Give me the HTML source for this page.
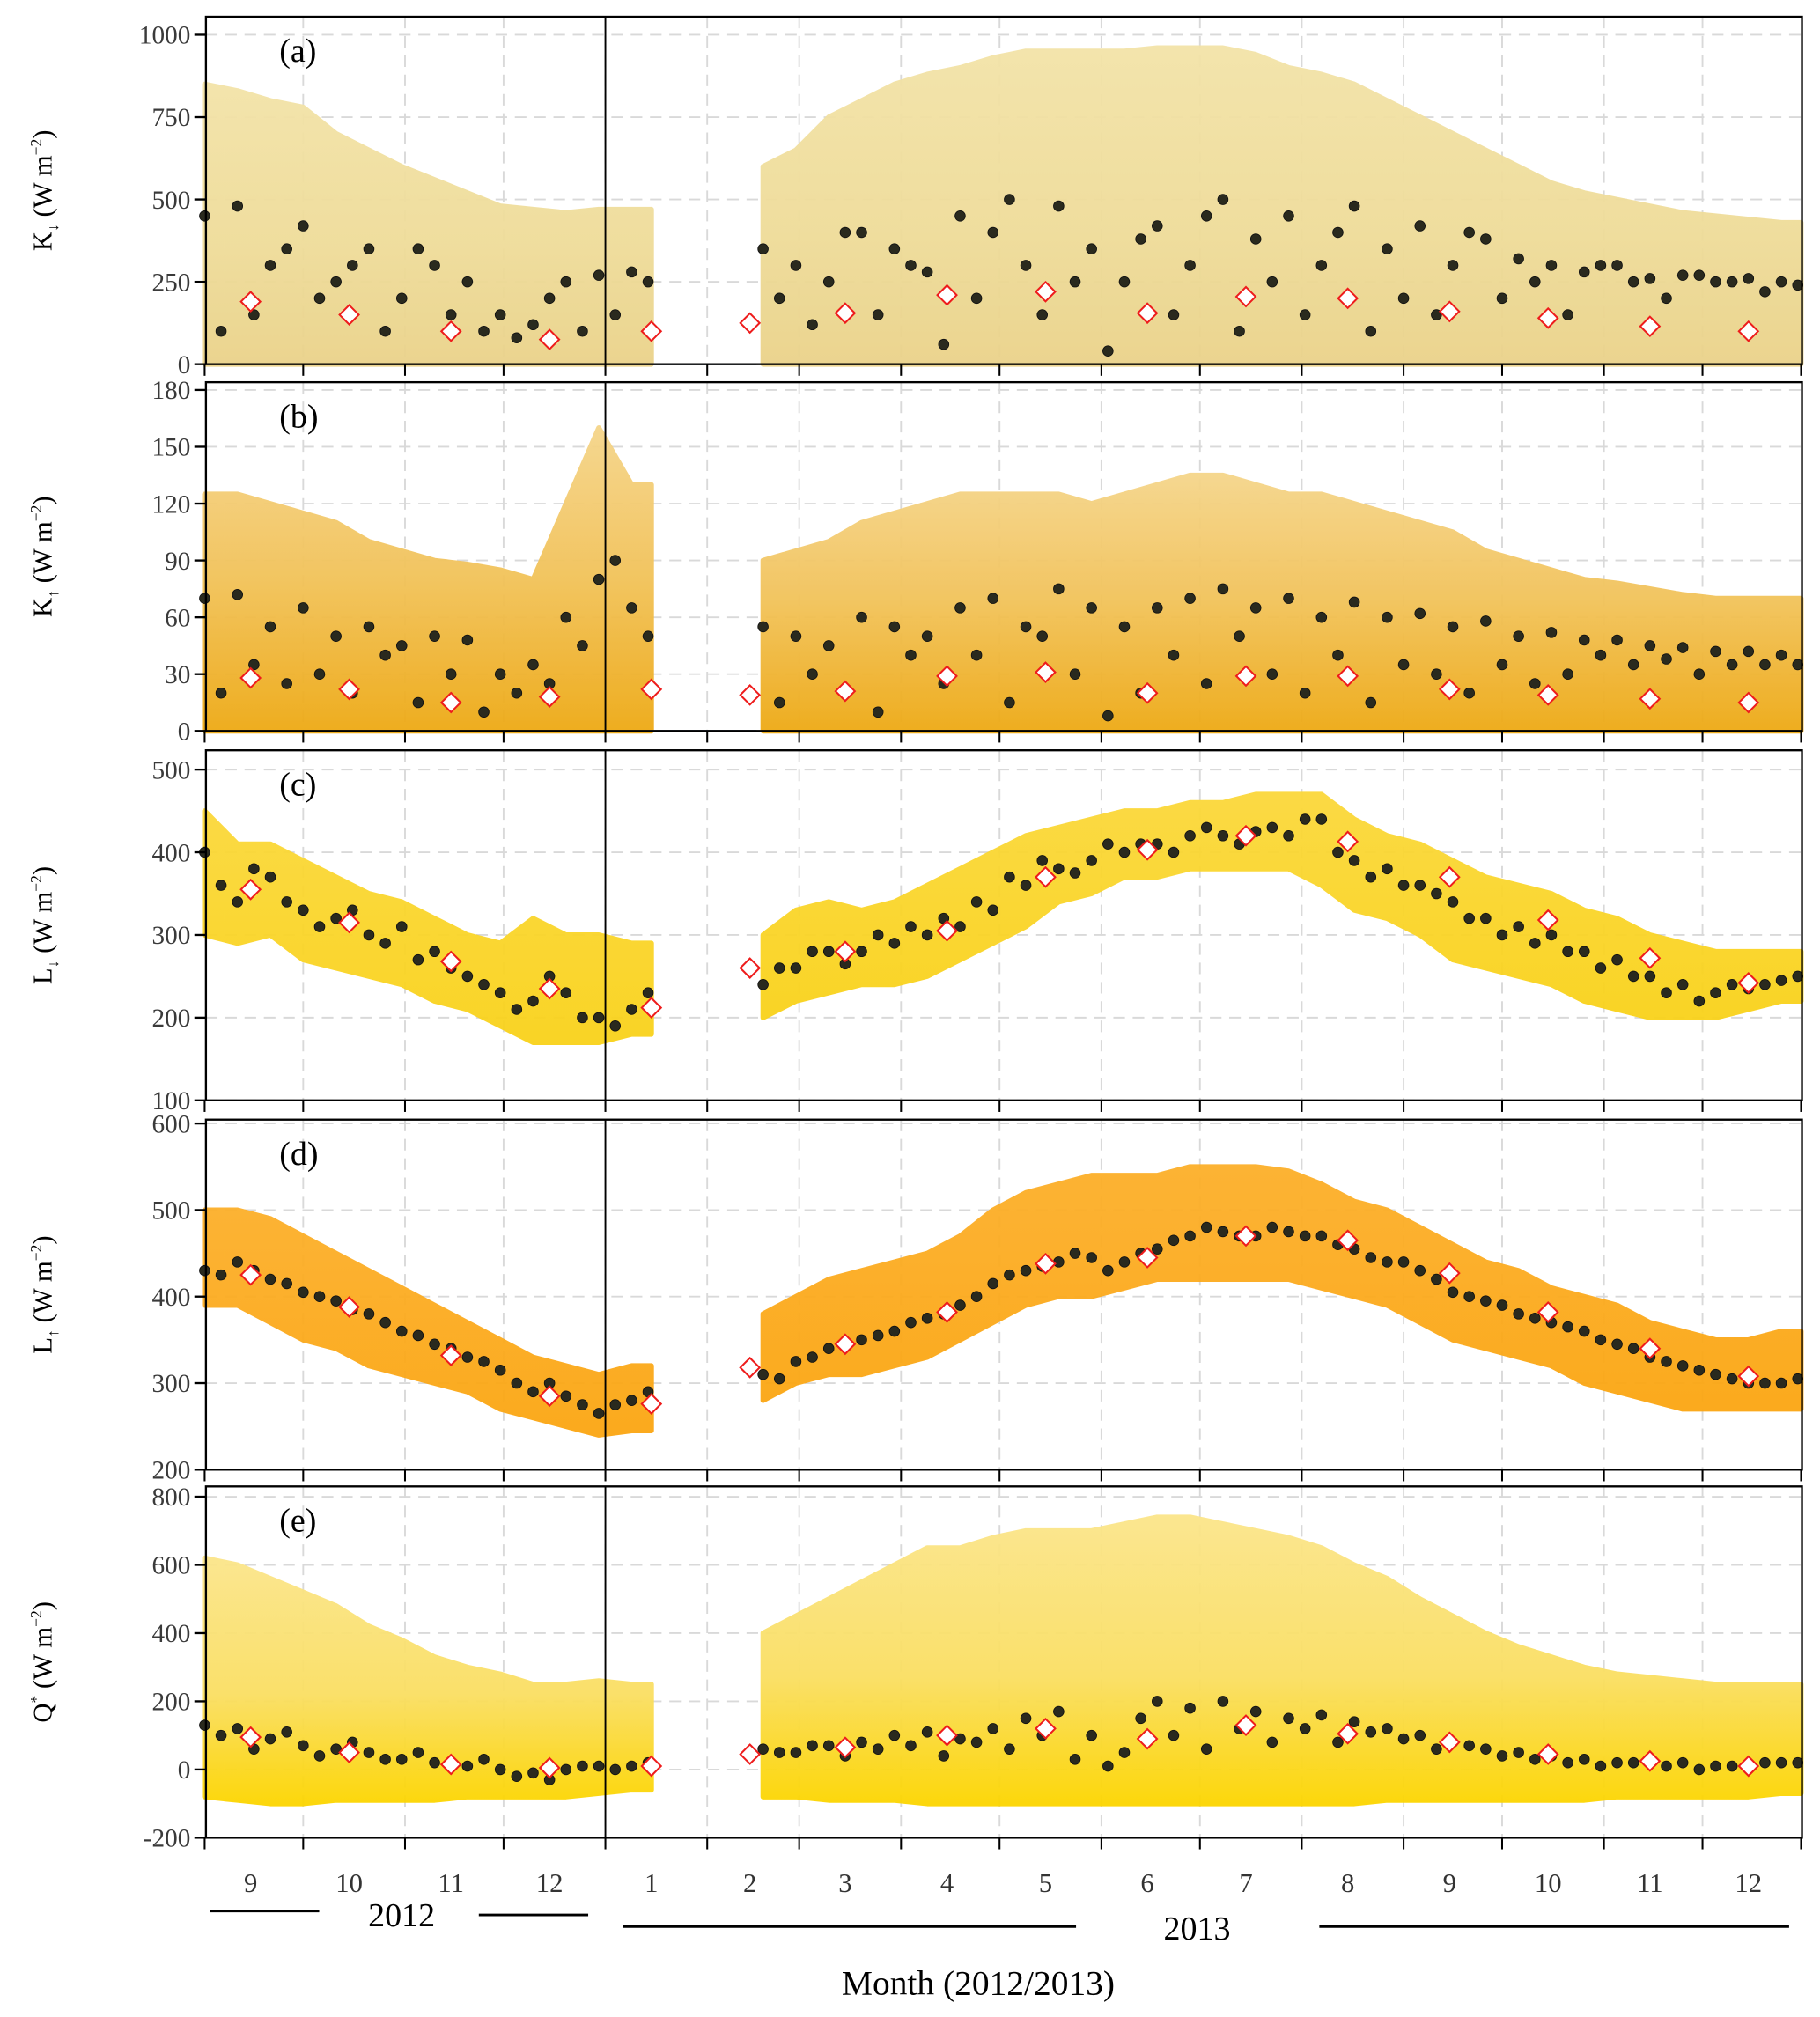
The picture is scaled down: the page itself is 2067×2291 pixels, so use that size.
<!DOCTYPE html>
<html><head><meta charset="utf-8">
<style>
html,body{margin:0;padding:0;background:#fff;}
svg{display:block;}
text{font-family:"Liberation Serif",serif;}
</style></head>
<body>
<svg id="chart" width="2067" height="2291" viewBox="0 0 1414 1567.3" preserveAspectRatio="none" xmlns="http://www.w3.org/2000/svg">
<defs>
<linearGradient id="ga" x1="0" y1="0" x2="0" y2="1"><stop offset="0" stop-color="#f3e3a8"/><stop offset="0.6" stop-color="#efdc98"/><stop offset="1" stop-color="#ead28a"/></linearGradient>
<linearGradient id="gb" x1="0" y1="0" x2="0" y2="1"><stop offset="0" stop-color="#f5d58a"/><stop offset="0.5" stop-color="#f2c258"/><stop offset="1" stop-color="#eea914"/></linearGradient>
<linearGradient id="gc" x1="0" y1="0" x2="0" y2="1"><stop offset="0" stop-color="#fbd83a"/><stop offset="1" stop-color="#f9d21a"/></linearGradient>
<linearGradient id="gd" x1="0" y1="0" x2="0" y2="1"><stop offset="0" stop-color="#fcaf2a"/><stop offset="1" stop-color="#fba612"/></linearGradient>
<linearGradient id="ge" x1="0" y1="0" x2="0" y2="1"><stop offset="0" stop-color="#fbe58a"/><stop offset="0.55" stop-color="#fadf63"/><stop offset="0.8" stop-color="#fbd92a"/><stop offset="1" stop-color="#fcd500"/></linearGradient>
</defs>
<g id="root"></g>
</svg>
<script>
const cloudMaxA = [850,830,800,780,700,650,600,560,520,480,470,460,470,470,null,null,null,600,650,750,800,850,880,900,930,950,950,950,950,960,960,960,940,900,880,850,800,750,700,650,600,550,520,500,480,460,450,440,430];
const cloudMinA = [0,0,0,0,0,0,0,0,0,0,0,0,0,0,null,null,null,0,0,0,0,0,0,0,0,0,0,0,0,0,0,0,0,0,0,0,0,0,0,0,0,0,0,0,0,0,0,0,0];
const meanAa = [450,480,300,420,250,350,200,300,250,150,120,250,270,280,null,null,null,350,300,250,400,350,280,450,400,300,480,350,250,420,300,500,380,450,300,480,350,420,300,380,320,300,280,300,260,270,250,260,250];
const meanBa = [100,150,350,200,300,100,350,150,100,80,200,100,150,250,null,null,null,200,120,400,150,300,60,200,500,150,250,40,380,150,450,100,250,150,400,100,200,150,400,200,250,150,300,250,200,270,250,220,240];
const diamA = [190,150,100,75,100,125,155,210,220,155,205,200,160,140,115,100];

const cloudMaxB = [125,125,120,115,110,100,95,90,88,85,80,120,160,130,null,null,null,90,95,100,110,115,120,125,125,125,125,120,125,130,135,135,130,125,125,120,115,110,105,95,90,85,80,78,75,72,70,70,70];
const cloudMinB = [0,0,0,0,0,0,0,0,0,0,0,0,0,0,null,null,null,0,0,0,0,0,0,0,0,0,0,0,0,0,0,0,0,0,0,0,0,0,0,0,0,0,0,0,0,0,0,0,0];
const meanAb = [70,72,55,65,50,55,45,50,48,30,35,60,80,65,null,null,null,55,50,45,60,55,50,65,70,55,75,65,55,65,70,75,65,70,60,68,60,62,55,58,50,52,48,48,45,44,42,42,40];
const meanBb = [20,35,25,30,20,40,15,30,10,20,25,45,90,50,null,null,null,15,30,20,10,40,25,40,15,50,30,8,20,40,25,50,30,20,40,15,35,30,20,35,25,30,40,35,38,30,35,35,35];
const diamB = [28,22,15,18,22,19,21,29,31,20,29,29,22,19,17,15];

const cloudMaxC = [450,410,410,390,370,350,340,320,300,290,320,300,300,290,null,null,null,300,330,340,330,340,360,380,400,420,430,440,450,450,460,460,470,470,470,440,420,410,390,370,360,350,330,320,300,290,280,280,280];
const cloudMinC = [300,290,300,270,260,250,240,220,210,190,170,170,170,180,null,null,null,200,220,230,240,240,250,270,290,310,340,350,370,370,380,380,380,380,360,330,320,300,270,260,250,240,220,210,200,200,200,210,220];
const meanAc = [400,340,370,330,320,300,310,280,250,230,220,230,200,210,null,null,null,240,260,280,280,290,300,310,330,360,380,390,400,410,420,420,425,420,440,390,380,360,340,320,310,300,280,270,250,240,230,235,245];
const meanBc = [360,380,340,310,330,290,270,260,240,210,250,200,190,230,null,null,null,260,280,265,300,310,320,340,370,390,375,410,410,400,430,410,430,440,400,370,360,350,320,300,290,280,260,250,230,220,240,240,250];
const diamC = [355,315,268,235,212,260,280,305,370,403,420,413,370,318,272,242];

const cloudMaxD = [500,500,490,470,450,430,410,390,370,350,330,320,310,320,null,null,null,380,400,420,430,440,450,470,500,520,530,540,540,540,550,550,550,545,530,510,500,480,460,440,430,410,400,390,370,360,350,350,360];
const cloudMinD = [390,390,370,350,340,320,310,300,290,270,260,250,240,245,null,null,null,280,300,310,310,320,330,350,370,390,400,400,410,420,420,420,420,420,410,400,390,370,350,340,330,320,300,290,280,270,270,270,270];
const meanAd = [430,440,420,405,395,380,360,345,330,315,290,285,265,280,null,null,null,310,325,340,350,360,375,390,415,430,440,445,440,455,470,475,470,475,470,455,440,430,405,395,380,370,360,345,330,320,310,300,300];
const meanBd = [425,430,415,400,385,370,355,340,325,300,300,275,275,290,null,null,null,305,330,345,355,370,380,400,425,435,450,430,450,465,480,470,480,470,460,445,440,420,400,390,375,365,350,340,325,315,305,300,305];
const diamD = [425,388,332,285,276,318,345,382,438,445,470,465,427,382,340,308];

const cloudMaxE = [620,600,560,520,480,420,380,330,300,280,250,250,260,250,null,null,null,400,450,500,550,600,650,650,680,700,700,700,720,740,740,720,700,680,650,600,560,500,450,400,360,330,300,280,270,260,250,250,250];
const cloudMinE = [-80,-90,-100,-100,-90,-90,-90,-90,-80,-80,-80,-80,-70,-60,null,null,null,-80,-80,-90,-90,-90,-100,-100,-100,-100,-100,-100,-100,-100,-100,-100,-100,-100,-100,-100,-90,-90,-90,-90,-90,-90,-90,-80,-80,-80,-80,-80,-70];
const meanAe = [130,120,90,70,60,50,30,20,10,0,-10,0,10,10,null,null,null,60,50,70,80,100,110,90,120,150,170,100,50,200,180,200,170,150,160,140,120,100,80,60,50,40,30,20,20,20,10,10,20];
const meanBe = [100,60,110,40,80,30,50,10,30,-20,-30,10,0,20,null,null,null,50,70,40,60,70,40,80,60,100,30,10,150,100,60,120,80,120,80,110,90,60,70,40,30,20,10,20,10,0,10,20,20];
const diamE = [95,50,15,5,10,45,65,100,120,90,130,105,80,45,25,10];

const diamDays = [14,44,75,105,136,166,195,226,256,287,317,348,379,409,440,470];
const monthStarts = [30,61,91,122,153,181,212,242,273,303,334,365,395,426,456];
const monthLabels = ["9","10","11","12","1","2","3","4","5","6","7","8","9","10","11","12"];
const ticksA = [0,250,500,750,1000];
const ticksB = [0,30,60,90,120,150,180];
const ticksC = [100,200,300,400,500];
const ticksD = [200,300,400,500,600];
const ticksE = [-200,0,200,400,600,800];

const NS = "http://www.w3.org/2000/svg";
const root = document.getElementById("root");
const X0 = 160, X1 = 1400;
function xDay(d){ return 159 + d * 2.552; }
function mk(tag, attrs, parent){ const e = document.createElementNS(NS, tag); for (const k in attrs) e.setAttribute(k, attrs[k]); (parent||root).appendChild(e); return e; }

const panels = [
 {key:"a", top:13, bot:283, vmin:0, vmax:1000, yTop:27, ticks:ticksA, max:cloudMaxA, min:cloudMinA, mA:meanAa, mB:meanBa, dm:diamA, fill:"url(#ga)", lab:"K", sub:"↓", sup:"", gap0:true},
 {key:"b", top:297, bot:568, vmin:0, vmax:180, yTop:303, ticks:ticksB, max:cloudMaxB, min:cloudMinB, mA:meanAb, mB:meanBb, dm:diamB, fill:"url(#gb)", lab:"K", sub:"↑", sup:"", gap0:true},
 {key:"c", top:583, bot:855, vmin:100, vmax:500, yTop:598, ticks:ticksC, max:cloudMaxC, min:cloudMinC, mA:meanAc, mB:meanBc, dm:diamC, fill:"url(#gc)", lab:"L", sub:"↓", sup:""},
 {key:"d", top:870, bot:1142, vmin:200, vmax:600, yTop:873, ticks:ticksD, max:cloudMaxD, min:cloudMinD, mA:meanAd, mB:meanBd, dm:diamD, fill:"url(#gd)", lab:"L", sub:"↑", sup:""},
 {key:"e", top:1155, bot:1428, vmin:-200, vmax:800, yTop:1163, ticks:ticksE, max:cloudMaxE, min:cloudMinE, mA:meanAe, mB:meanBe, dm:diamE, fill:"url(#ge)", lab:"Q", sub:"", sup:"*"}
];

panels.forEach(p => {
  const y = v => p.bot - (v - p.vmin) / (p.vmax - p.vmin) * (p.bot - p.yTop);
  const g = mk("g", {});
  
  
  p.ticks.forEach(t => {
    const ln = mk("line", {x1:X0, x2:X1, y1:y(t), y2:y(t), stroke:"#d9d9d9", "stroke-width":1.3, "stroke-dasharray":"9,6"}, g);
    
    
  });
  monthStarts.forEach(d => {
    const ln = mk("line", {x1:xDay(d), x2:xDay(d), y1:p.top, y2:p.bot, stroke:"#d9d9d9", "stroke-width":1.3, "stroke-dasharray":"9,6"}, g);
    
    
  });
  let seg = [];
  const segs = [];
  p.max.forEach((v, i) => { if (v === null) { if (seg.length) segs.push(seg); seg = []; } else seg.push(i); });
  if (seg.length) segs.push(seg);
  segs.forEach(s => {
    const pts = [];
    const endD = Math.min(s[s.length-1]*10 + 6, 486);
    s.forEach(i => pts.push(xDay(Math.min(i*10, 486)) + "," + y(p.max[i])));
    pts.push(xDay(endD) + "," + y(p.max[s[s.length-1]]));
    pts.push(xDay(endD) + "," + y(p.min[s[s.length-1]]));
    for (let k = s.length - 1; k >= 0; k--) { const i = s[k]; pts.push(xDay(Math.min(i*10, 486)) + "," + y(p.min[i])); }
    const poly = mk("polygon", {points:pts.join(" "), fill:p.fill, stroke:p.fill, "stroke-width":4, "stroke-linejoin":"round", opacity:0.95}, g);
    
    
  });
  if (p.gap0) {
    const ln = mk("line", {x1:xDay(136), x2:xDay(168), y1:y(0), y2:y(0), stroke:"#8aa0c8", "stroke-width":1.5}, g);
    
    
  }
  [[p.mA, 0], [p.mB, 5]].forEach(([arr, off]) => {
    arr.forEach((v, i) => {
      if (v === null) return;
      const d = i * 10 + off; if (d > 486) return;
      const c = mk("circle", {cx:xDay(d), cy:y(v), r:4, fill:"#2a2a1e", stroke:"#111", "stroke-width":0.6}, g);
      
      
    });
  });
  p.dm.forEach((v, i) => {
    const cx = xDay(diamDays[i]), cy = y(v), s = 7.5;
    const dmd = mk("polygon", {points:`${cx},${cy-s} ${cx+s},${cy} ${cx},${cy+s} ${cx-s},${cy}`, fill:"#fff", stroke:"#ee1c1c", "stroke-width":1.4}, g);
    
    
  });
  const yl = mk("line", {x1:xDay(122), x2:xDay(122), y1:p.top, y2:p.bot, stroke:"#000", "stroke-width":1.3}, g);
  
  
  const fr = mk("rect", {x:X0, y:p.top, width:X1-X0, height:p.bot-p.top, fill:"none", stroke:"#000", "stroke-width":1.6}, g);
  
  
  p.ticks.forEach(t => {
    const tk = mk("line", {x1:X0-9, x2:X0, y1:y(t), y2:y(t), stroke:"#000", "stroke-width":1.6}, g);
    
    
    const tl = mk("text", {x:X0-12, y:y(t)+7, "text-anchor":"end", "font-size":20, fill:"#3a3a3a"}, g);
    tl.textContent = String(t);
    
    
  });
  [0].concat(monthStarts).concat([486]).forEach(d => {
    const tk = mk("line", {x1:xDay(d), x2:xDay(d), y1:p.bot, y2:p.bot+9, stroke:"#000", "stroke-width":1.4}, g);
    
    
  });
  const pl = mk("text", {x:217, y:p.top+35, "font-size":26, fill:"#000"}, g);
  pl.textContent = "(" + p.key + ")";
  
  
  const cy = (p.top + p.bot) / 2;
  const yt = mk("text", {x:0, y:0, transform:`translate(40 ${cy}) rotate(-90)`, "text-anchor":"middle", "font-size":21, fill:"#000"}, g);
  
  
  yt.innerHTML = p.lab + (p.sub ? `<tspan font-size="12" dy="5">${p.sub}</tspan><tspan dy="-5"> </tspan>` : "") + (p.sup ? `<tspan font-size="12" dy="-8">${p.sup}</tspan><tspan dy="8"> </tspan>` : "") + `(W m<tspan font-size="12" dy="-8">−2</tspan><tspan dy="8">)</tspan>`;
});

monthLabels.forEach((m, i) => {
  const t = mk("text", {x:xDay(diamDays[i]), y:1470, "text-anchor":"middle", "font-size":21, fill:"#333"});
  t.textContent = m;
  
  
});
</script>
<svg style="position:absolute;left:0;top:0" width="2067" height="2291" viewBox="0 0 1414 1567.3" preserveAspectRatio="none">
<line x1="163" x2="248" y1="1485" y2="1485" stroke="#000" stroke-width="2"/>
<text x="312" y="1497" text-anchor="middle" font-size="26" font-family="Liberation Serif, serif">2012</text>
<line x1="372" x2="457" y1="1488" y2="1488" stroke="#000" stroke-width="2"/>
<line x1="484" x2="836" y1="1497" y2="1497" stroke="#000" stroke-width="2"/>
<text x="930" y="1507" text-anchor="middle" font-size="26" font-family="Liberation Serif, serif">2013</text>
<line x1="1025" x2="1390" y1="1497" y2="1497" stroke="#000" stroke-width="2"/>
<text x="760" y="1550" text-anchor="middle" font-size="27" font-family="Liberation Serif, serif">Month (2012/2013)</text>
</svg>
</body></html>
